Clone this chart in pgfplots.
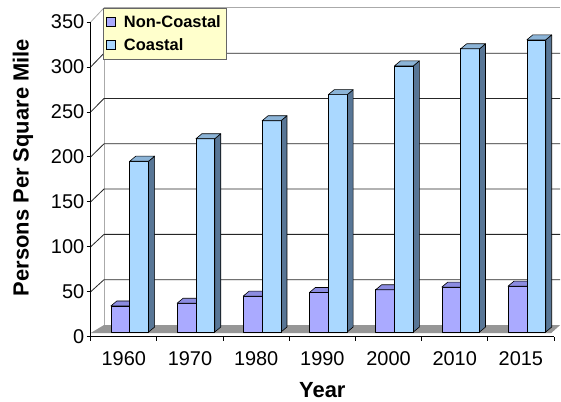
\documentclass[border=0pt]{standalone}
\usepackage{pgfplots}
\pgfplotsset{compat=1.18}
\usepackage{pgfplotstable}
\usepackage{fontspec}
\setmainfont{Liberation Sans}
\definecolor{ncfront}{RGB}{170,170,255}
\definecolor{nctop}{RGB}{140,140,225}
\definecolor{cofront}{RGB}{170,216,255}
\definecolor{cotop}{RGB}{140,180,215}
\definecolor{coside}{RGB}{88,118,150}
\definecolor{floorgray}{RGB}{150,150,150}
\definecolor{legfill}{RGB}{255,255,204}
\definecolor{walledge}{RGB}{170,170,170}

\pgfplotstableread{
idx nc co
0 29 190
1 32 215
2 40 235
3 44 264
4 47 296
5 50 315
6 51 325
}\datatable

\begin{document}
\begin{tikzpicture}
\useasboundingbox (-90.7bp,-65.3bp) rectangle (470.3bp,336.7bp);
\fill[white] (-90.7bp,-65.3bp) rectangle (470.3bp,336.7bp);
\begin{axis}[
  at={(0,0)}, anchor=south west,
  scale only axis, width=463.3bp, height=314.7bp,
  xmin=-0.5, xmax=6.5, ymin=0, ymax=350,
  clip=false, axis on top,
  axis lines=left,
  axis line style={-, black, line width=0.8bp},
  ytick={0,50,...,350},
  xtick={0,...,6},
  xticklabels={1960,1970,1980,1990,2000,2010,2015},
  minor xtick={-0.5,0.5,...,6.5},
  tick align=outside,
  major tick length=4bp, minor tick length=4bp,
  tick style={black, line width=0.8bp},
  major x tick style={draw=none},
  /pgf/number format/assume math mode=true,
  tick label style={font=\fontsize{20}{23}\selectfont},
  yticklabel style={xshift=1bp},
  xticklabel style={yshift=-7bp},
  xlabel={Year}, ylabel={Persons Per Square Mile},
  label style={font=\bfseries\fontsize{22}{25}\selectfont},
  xlabel style={at={(axis description cs:0.5,-0.170)}, anchor=center},
  ylabel style={at={(axis description cs:-0.146,0.5377)}, anchor=center},
  legend style={at={(rel axis cs:0.0265,1.0454)}, anchor=north west,
    fill=legfill, draw=black!60, line width=0.8bp,
    font=\bfseries\fontsize{16.5}{19}\selectfont,
    inner xsep=3bp, inner ysep=5.5bp, row sep=7bp,
    nodes={inner xsep=3bp, inner ysep=1.5bp}},
  legend cell align=left,
  legend image code/.code={\draw[#1, draw=black, line width=0.6bp] (4bp,-4.5bp) rectangle (13bp,4.5bp);},
]
\addlegendimage{fill=ncfront}
\addlegendentry{\hspace{5bp}Non-Coastal}
\addlegendimage{fill=cofront}
\addlegendentry{\hspace{5bp}Coastal}

% side wall diagonals and back wall grid
\draw[walledge, line width=0.8bp] (axis cs:-0.299,13.0) -- (axis cs:-0.299,365.7) -- (axis cs:6.594,365.7);
\draw[walledge, line width=0.8bp] (axis cs:-0.5,350) -- (axis cs:-0.299,365.7);
\fill[floorgray] (axis cs:-0.5,4.1) -- (axis cs:-0.299,13.0) -- (axis cs:6.594,13.0) -- (axis cs:6.458,4.1) -- cycle;
\draw[black!85, line width=0.8bp] (axis cs:-0.5,50) -- (axis cs:-0.299,63.4) -- (axis cs:6.594,63.4);
\draw[black!85, line width=0.8bp] (axis cs:-0.5,100) -- (axis cs:-0.299,113.8) -- (axis cs:6.594,113.8);
\draw[black!85, line width=0.8bp] (axis cs:-0.5,150) -- (axis cs:-0.299,164.2) -- (axis cs:6.594,164.2);
\draw[black!85, line width=0.8bp] (axis cs:-0.5,200) -- (axis cs:-0.299,214.5) -- (axis cs:6.594,214.5);
\draw[black!85, line width=0.8bp] (axis cs:-0.5,250) -- (axis cs:-0.299,264.9) -- (axis cs:6.594,264.9);
\draw[black!85, line width=0.8bp] (axis cs:-0.5,300) -- (axis cs:-0.299,315.3) -- (axis cs:6.594,315.3);

\pgfplotsforeachungrouped \i in {0,...,6}{%
  \pgfplotstablegetelem{\i}{nc}\of\datatable \let\vnc\pgfplotsretval
  \pgfplotstablegetelem{\i}{co}\of\datatable \let\vco\pgfplotsretval
  \pgfmathsetmacro\xa{\i+0.09-0.285}
  \pgfmathsetmacro\xb{\i+0.09}
  \pgfmathsetmacro\xc{\i+0.09+0.285}
  \pgfmathsetmacro\xad{\xa+0.0906}
  \pgfmathsetmacro\xbd{\xb+0.0906}
  \pgfmathsetmacro\xcd{\xc+0.0906}
  \pgfmathsetmacro\tn{\vnc+5.2}
  \pgfmathsetmacro\tc{\vco+5.2}
  \pgfmathsetmacro\tnd{\tn+5.56}
  \pgfmathsetmacro\tcd{\tc+5.56}
  \edef\cmd{%
    \noexpand\addplot[forget plot, fill=ncfront, draw=black, line width=0.6bp, line join=round] coordinates {(\xa,5.2) (\xb,5.2) (\xb,\tn) (\xa,\tn)} --cycle;
    \noexpand\addplot[forget plot, fill=nctop, draw=black, line width=0.6bp, line join=round] coordinates {(\xa,\tn) (\xb,\tn) (\xbd,\tnd) (\xad,\tnd)} --cycle;
    \noexpand\addplot[forget plot, fill=coside, draw=black, line width=0.6bp, line join=round] coordinates {(\xc,5.2) (\xcd,10.76) (\xcd,\tcd) (\xc,\tc)} --cycle;
    \noexpand\addplot[forget plot, fill=cofront, draw=black, line width=0.6bp, line join=round] coordinates {(\xb,5.2) (\xc,5.2) (\xc,\tc) (\xb,\tc)} --cycle;
    \noexpand\addplot[forget plot, fill=cotop, draw=black, line width=0.6bp, line join=round] coordinates {(\xb,\tc) (\xc,\tc) (\xcd,\tcd) (\xbd,\tcd)} --cycle;
  }\cmd
}
\end{axis}
\end{tikzpicture}
\end{document}
